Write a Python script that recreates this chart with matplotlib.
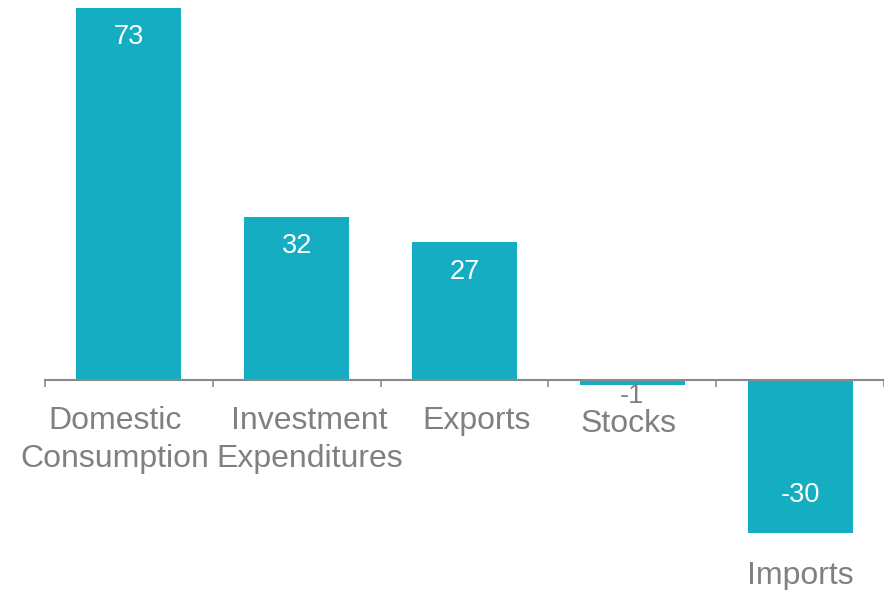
import matplotlib.pyplot as plt

plt.rcParams['font.family'] = ['Liberation Sans', 'DejaVu Sans']

categories = ['Domestic\nConsumption', 'Investment\nExpenditures', 'Exports', 'Stocks', 'Imports']
values = [73, 32, 27, -1, -30]

teal = '#14adc1'
grey = '#808080'

fig = plt.figure(figsize=(8.84, 5.90), dpi=100)
ax = fig.add_axes([45 / 884, 0, 839 / 884, 1])

x = list(range(len(values)))
ax.bar(x, values, width=0.625, color=teal, zorder=2)

ax.set_xlim(-0.5, 4.5)
ax.set_ylim(-41.2, 74.57)

# axis line through zero with ticks between categories
for s in ['top', 'right', 'left']:
    ax.spines[s].set_visible(False)
ax.spines['bottom'].set_position(('data', 0))
ax.spines['bottom'].set_color('#8a8a8a')
ax.spines['bottom'].set_linewidth(1.5)
ax.spines['bottom'].set_zorder(3)
ax.set_xticks([i - 0.5 for i in range(len(values) + 1)])
ax.set_xticklabels([])
ax.tick_params(axis='x', direction='out', length=5, width=1.2, color='#8a8a8a')
ax.set_yticks([])

# value labels
for i, v in enumerate(values):
    if v >= 5:
        ax.annotate(str(v), (i, v), xytext=(0, -21), textcoords='offset points',
                    ha='center', va='center', color='white', fontsize=19.5)
    elif v <= -5:
        ax.annotate(str(v), (i, v), xytext=(0, 27), textcoords='offset points',
                    ha='center', va='center', color='white', fontsize=19.5)
    else:
        ax.annotate(str(v), (i, v), xytext=(0, -7.5), textcoords='offset points',
                    ha='center', va='center', color=grey, fontsize=19.5)

# category labels
label_dx = [-10, 9, 9, -3, 0]
for i, (c, v) in enumerate(zip(categories, values)):
    if v <= -5:
        ax.annotate(c, (i, v), xytext=(label_dx[i], -20.5), textcoords='offset points',
                    ha='center', va='top', color=grey, fontsize=23, linespacing=1.35)
    elif v < 0:
        ax.annotate(c, (i, 0), xytext=(label_dx[i], -21), textcoords='offset points',
                    ha='center', va='top', color=grey, fontsize=23, linespacing=1.35)
    else:
        ax.annotate(c, (i, 0), xytext=(label_dx[i], -18.5), textcoords='offset points',
                    ha='center', va='top', color=grey, fontsize=23, linespacing=1.35)

fig.savefig('out.png', dpi=100)
